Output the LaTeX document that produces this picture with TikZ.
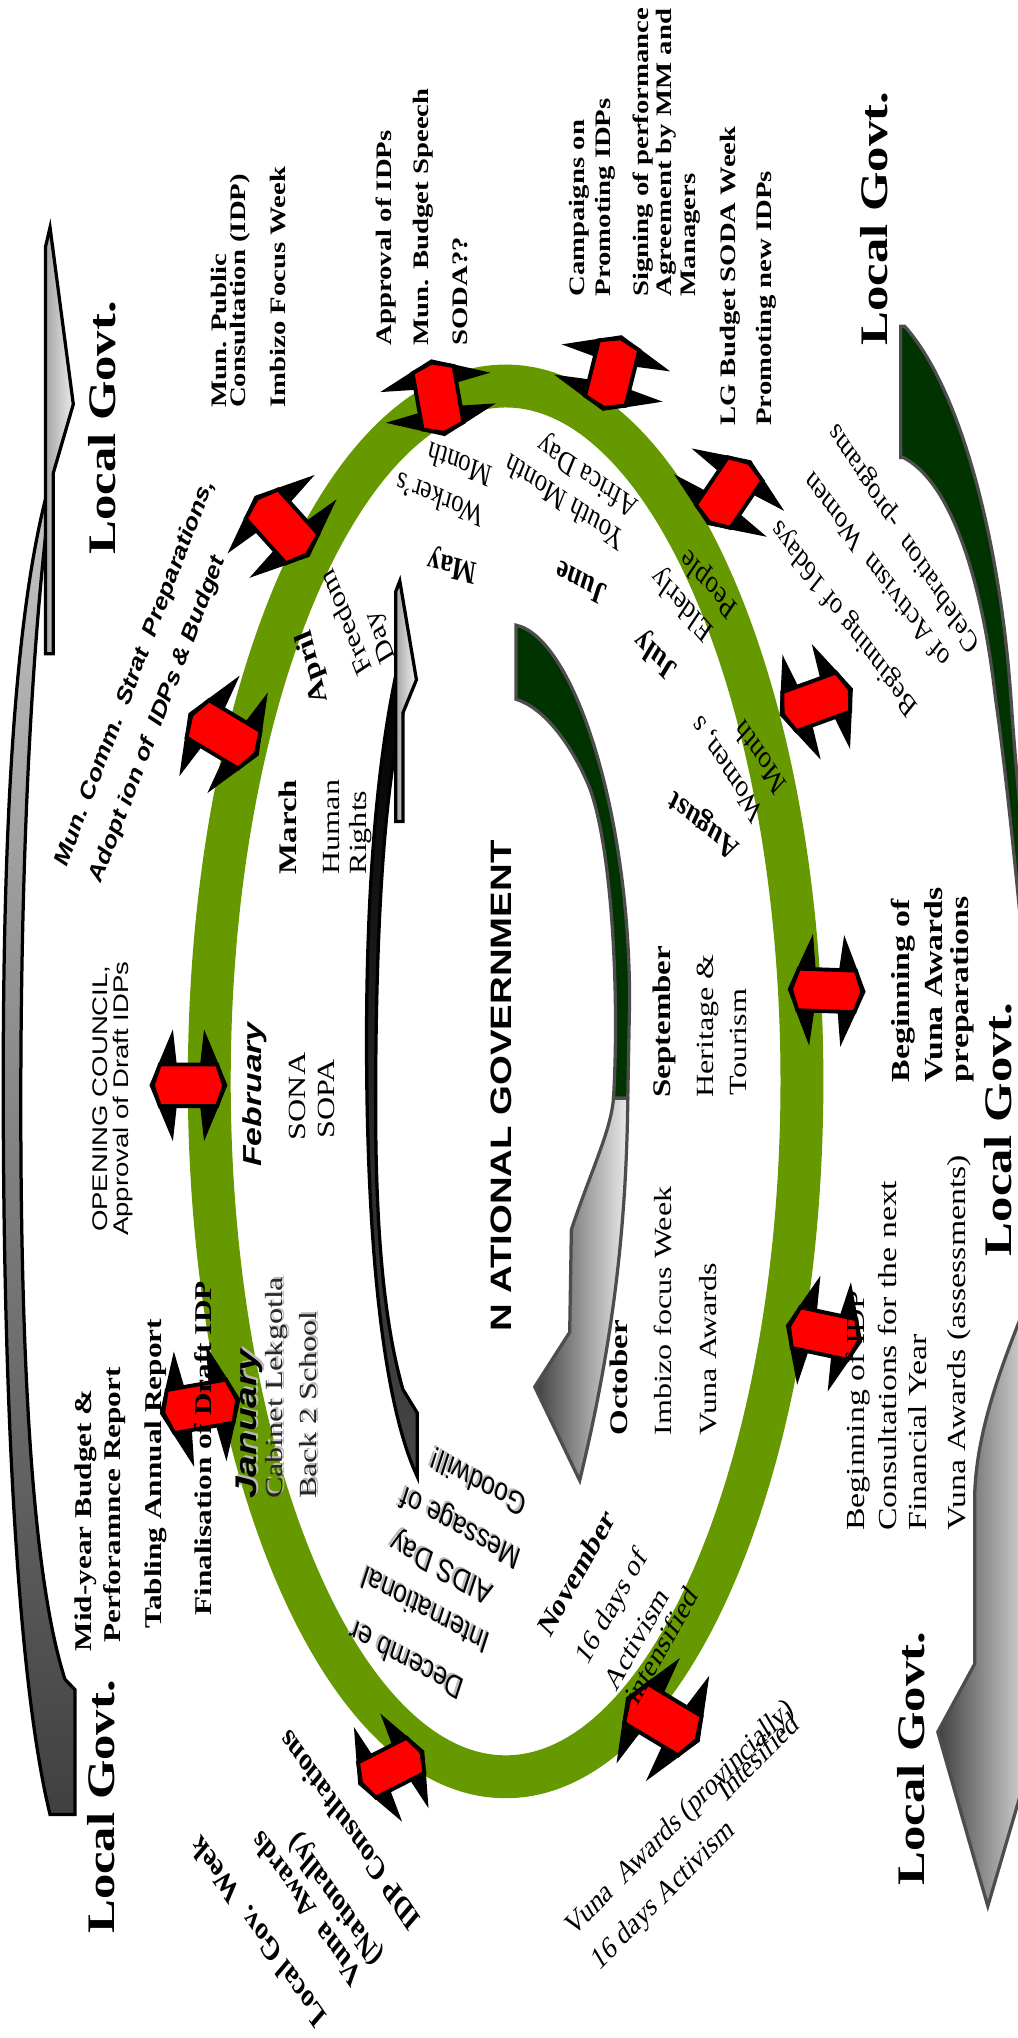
\documentclass[tikz,border=0pt]{standalone}
\usepackage{fontspec}
\setmainfont{Liberation Serif}
\setsansfont{Liberation Sans}
\definecolor{ringg}{HTML}{669900}
\definecolor{dgreen}{HTML}{003300}
\definecolor{ogray}{HTML}{4D4D4D}
\newcommand\fs[1]{\fontsize{#1}{#1}\selectfont}
\tikzset{
 lg/.style={font=\bfseries\fs{30}},
 tb/.style={font=\bfseries\fs{17}},
 lb/.style={font=\bfseries\fs{18.5}},
 mb/.style={font=\bfseries\fs{19.5}},
 mr/.style={font=\fs{19}},
 nat/.style={font=\sffamily\bfseries\fs{22.7}},
 sr/.style={font=\sffamily\fs{16.3}},
 sbb/.style={font=\sffamily\bfseries\fs{16}},
 feb/.style={font=\sffamily\bfseries\itshape\fs{20}},
 jan/.style={font=\sffamily\bfseries\itshape\fs{23}},
 dec/.style={font=\sffamily\fs{19}},
 rb/.style={font=\bfseries\fs{20}},
 rr/.style={font=\fs{20}},
 rs/.style={font=\fs{18.4}},
 idp/.style={font=\bfseries\fs{19.3}},
 shadowtxt/.style={text=gray!55},
 arrowline/.style={line width=2.5pt},
}
% rotated text, anchored at baseline start
\newcommand\TL[5]{\begin{scope}[shift={(#1)},yscale=1.3]\node[inner sep=0pt,anchor=base west,rotate=#2,transform shape,#3] (#4) at (0,0) {#5};\end{scope}}
% rotated text, anchored at centre
\newcommand\TC[5]{\begin{scope}[shift={(#1)},yscale=1.3]\node[inner sep=0pt,anchor=center,rotate=#2,transform shape,#3] (#4) at (0,0) {#5};\end{scope}}
% with grey shadow
\newcommand\TLs[5]{\begin{scope}[shift={(#1)},shift={(1.4,1.4)},yscale=1.3]\node[inner sep=0pt,anchor=base west,rotate=#2,transform shape,#3,shadowtxt] (#4s) at (0,0) {#5};\end{scope}\TL{#1}{#2}{#3}{#4}{#5}}
\newcommand\TCs[5]{\begin{scope}[shift={(#1)},shift={(-1.2,1.4)},yscale=1.3]\node[inner sep=0pt,anchor=center,rotate=#2,transform shape,#3,shadowtxt] (#4s) at (0,0) {#5};\end{scope}\TC{#1}{#2}{#3}{#4}{#5}}
% red double arrow across the ring
\newcommand\RA[4]{\begin{scope}[shift={(#2)},rotate=#3,scale=#4]
\fill[black] (0,30) -- (43,12) -- (16,9) -- (16,-9) -- (43,-12) -- (0,-30) -- (-43,-12) -- (-16,-9) -- (-16,9) -- (-43,12) -- cycle;
\filldraw[fill=red,draw=black,line width=3pt] (0,27.5) -- (16,22) -- (16,-22) -- (0,-27.5) -- (-16,-22) -- (-16,22) -- cycle;
\coordinate (#1) at (0,0);
\end{scope}}

\begin{document}
\begin{tikzpicture}[x=1pt,y=1pt]
\useasboundingbox[fill=white] (0,0) rectangle (782.5,-1568);

% ---------- outer left curved arrow (Local Govt., upward)
\path[draw=black,arrowline,top color=gray!45,middle color=black,bottom color=black!75]
 (36,-380) .. controls (10,-480) and (2,-650) .. (2.5,-850)
 .. controls (3,-1100) and (15,-1300) .. (38.5,-1396) -- (57.7,-1396) -- (57.7,-1300) -- (50,-1292)
 .. controls (30,-1230) and (16,-1100) .. (16,-850)
 .. controls (16,-650) and (25,-480) .. (41,-364) -- cycle;
\path[draw=black,arrowline,left color=gray!70,right color=gray!15]
 (38.5,-175) -- (56.4,-311) -- (41,-364) -- (41,-503) -- (35,-503) -- (35,-190) -- cycle;

% ---------- outer right curved arrow (Local Govt., downward)
\path[draw=ogray,arrowline,fill=dgreen]
 (693,-251) -- (696,-251) .. controls (740,-300) and (770,-420) .. (778,-540)
 .. controls (782,-600) and (790,-680) .. (800,-760) -- (790,-760)
 .. controls (780,-650) and (772,-580) .. (766,-538)
 .. controls (755,-440) and (730,-370) .. (695,-352) -- (693,-352) -- cycle;
\path[draw=ogray,arrowline,left color=black!75,right color=black!8]
 (795,-990) .. controls (770,-1050) and (752,-1100) .. (750,-1147) -- (750,-1280)
 -- (721.5,-1332.5) -- (760,-1466.5) -- (800,-1330) -- cycle;

% ---------- inner left curved arrow (National, upward)
\path[draw=black,arrowline,top color=black,middle color=black,bottom color=black!72]
 (303.8,-523) .. controls (288,-600) and (282,-700) .. (282,-800)
 .. controls (282,-960) and (295,-1080) .. (321,-1136) -- (321,-1087) -- (310,-1069)
 .. controls (296,-1020) and (289,-950) .. (289,-850)
 .. controls (289,-700) and (297,-600) .. (310,-548.5) -- cycle;
\path[draw=black,arrowline,left color=gray!70,right color=gray!10]
 (307.6,-447) -- (320.4,-523) -- (310,-548.5) -- (310,-632) -- (304.5,-632) -- (304.5,-455) -- cycle;

% ---------- inner right curved arrow (National, downward)
\path[draw=ogray,arrowline,fill=dgreen]
 (397,-481) .. controls (440,-490) and (484,-620) .. (484.4,-769) -- (483,-845) -- (472,-845)
 .. controls (477,-760) and (470,-640) .. (451,-600)
 .. controls (440,-575) and (420,-545) .. (397,-538) -- cycle;
\path[draw=ogray,arrowline,left color=black!75,right color=black!8]
 (483,-845) .. controls (482,-950) and (470,-1040) .. (446,-1139) -- (411.4,-1067) -- (438.3,-1025) -- (439.6,-946)
 .. controls (455,-900) and (470,-870) .. (472,-845) -- cycle;

% ---------- the ring
\draw[ringg,line width=33pt] (389,-832) ellipse [x radius=228, y radius=535];

% ---------- red double arrows, one per month
\RA{aMay}{337,-306}{10}{1}
\RA{aJun}{471,-287}{-14}{1}
\RA{aJul}{561,-379}{-34}{1}
\RA{aAug}{628,-540}{-70}{1}
\RA{aSep}{636,-762}{-92}{1}
\RA{aOct}{634,-1026}{-102}{1}
\RA{aNov}{510,-1323}{-121}{1.1}
\RA{aDec}{301,-1360}{117}{0.95}
\RA{aJan}{154,-1082}{100}{1.05}
\RA{aFeb}{145,-835}{90}{1}
\RA{aMar}{172,-565}{59}{1.05}
\RA{aApr}{217,-405}{42}{1.05}

% ---------- Local Govt. labels
\TL{88.5,-427}{90}{lg}{lgA}{Local Govt.}
\TL{683,-266}{90}{lg}{lgB}{Local Govt.}
\TL{777.9,-966.6}{90}{lg}{lgC}{Local Govt.}
\TL{711.3,-1450.9}{90}{lg}{lgD}{Local Govt.}
\TL{88,-1488}{90}{lg}{lgE}{Local Govt.}

% ---------- top outer texts
\TL{174,-314}{90}{tb}{t1}{Mun. Public}
\TL{189,-314}{90}{tb}{t2}{Consultation (IDP)}
\TL{220,-314}{90}{tb}{t3}{Imbizo Focus Week}
\TL{301,-266}{90}{tb}{t4}{Approval of IDPs}
\TL{329.5,-266}{90}{tb}{t5}{Mun. Budget Speech}
\TL{360,-266}{90}{tb}{t6}{SODA??}
\TL{450,-228.3}{90}{tb}{t7}{Campaigns on}
\TL{469.5,-228.3}{90}{tb}{t8}{Promoting IDPs}
\TL{499,-228.3}{90}{tb}{t9}{Signing of performance}
\TL{517,-228.3}{90}{tb}{t10}{Agreement by MM and}
\TL{535,-228.3}{90}{tb}{t11}{Managers}
\TL{565.5,-327.8}{90}{tb}{t12}{LG Budget SODA Week}
\TL{593.7,-327.8}{90}{tb}{t13}{Promoting new IDPs}

% ---------- left outer texts
\TC{104,-518}{63.5}{sbb}{t14}{Mun. Comm.\ \ Strat\ \ Preparations,}
\TC{121.7,-553.6}{63.5}{sbb}{t15}{Adopt ion of\ \ IDPs \& Budget}
\TL{82.5,-948}{90}{sr}{t16}{OPENING COUNCIL,}
\TL{99.2,-951}{90}{sr}{t17}{Approval of Draft IDPs}
\TL{70.3,-1270.7}{90}{lb}{t18}{Mid-year Budget \&}
\TL{92.5,-1263.8}{90}{lb}{t19}{Perforamnce Report}
\TL{124.5,-1253.4}{90}{lb}{t20}{Tabling Annual Report}
\TL{162.8,-1243.2}{90}{lb}{t21}{Finalisation of Draft IDP}

% ---------- bottom outer texts
\TC{269,-1408.5}{132}{idp}{t22}{IDP Consultations}
\TC{258.9,-1461}{132}{idp}{t23}{(Nationally)}
\TC{235.8,-1468.7}{132}{idp}{t24}{Vuna\ \ Awards}
\TC{198.6,-1486.6}{132}{idp}{t25}{Local Gov.\ \ Week}
\TC{523.5,-1399.4}{38}{mr}{t26}{Vuna\ \ Awards (provincially)}
\TC{583,-1351}{38}{mr}{t27}{Intesified}
\TC{510.7,-1458.6}{38}{mr}{t28}{16 days Activism}

% ---------- right outer texts
\TC{649.8,-474.8}{134}{rs}{t29}{Beginning of 16days}
\TC{674.1,-439.4}{134}{rs}{t30}{of Activism\ \ Women}
\TC{695.9,-413.6}{130}{rs}{t31}{Celebration\ \ -programs}
\TL{700,-832.8}{90}{rb}{t32}{Beginning of}
\TL{725.4,-832.8}{90}{rb}{t33}{Vuna Awards}
\TL{745,-832.8}{90}{rb}{t34}{preparations}
\TL{665.5,-1178}{90}{rr}{t35}{Beginning of IDP}
\TL{689.5,-1178}{90}{rr}{t36}{Consultations for the next}
\TL{712.6,-1178}{90}{rr}{t37}{Financial Year}
\TL{742.5,-1178}{90}{rr}{t38}{Vuna Awards (assessments)}

% ---------- months inside the ring
\TL{228,-673}{90}{mb}{m1}{March}
\TL{261.4,-673}{90}{mr}{m2}{Human}
\TL{282,-673}{90}{mr}{m3}{Rights}
\TC{241,-513}{108}{mb}{m4}{April}
\TC{265.8,-479.3}{117}{mr}{m5}{Freedom}
\TC{293.5,-489.5}{115}{mr}{m6}{Day}
\TC{348,-434.5}{169}{mb}{m7}{May}
\TC{338.3,-384.5}{162}{mr}{m8}{Worker’s}
\TC{353.7,-357.6}{162}{mr}{m9}{Month}
\TC{447.3,-448.5}{157.5}{mb}{m10}{June}
\TC{434.5,-387}{152}{mr}{m11}{Youth Month}
\TC{452.4,-365.2}{152}{mr}{m12}{Africa Day}
\TC{505,-503.6}{142}{mb}{m13}{July}
\TC{525.4,-464}{139}{mr}{m14}{Elderly}
\TC{546,-448.5}{139}{mr}{m15}{People}
\TC{542,-633.6}{148}{mb}{m16}{August}
\TC{560,-590.8}{130}{mr}{m17}{Women, s}
\TC{584.4,-583}{130}{mr}{m18}{Month}
\TL{515.5,-844.8}{90}{mb}{m19}{September}
\TL{548.8,-844.8}{90}{mr}{m20}{Heritage \&}
\TL{574.1,-843.1}{90}{mr}{m21}{Tourism}
\TL{483.1,-1104.7}{90}{mb}{m22}{October}
\TL{516.5,-1104.7}{90}{mr}{m23}{Imbizo focus Week}
\TL{551,-1104.7}{90}{mr}{m24}{Vuna Awards}
\TC{443.4,-1209.8}{54}{mb}{m25}{November}
\TC{471.6,-1236.7}{54}{mr}{m26}{16 days of}
\TC{490,-1260.5}{54}{mr}{m27}{Activism}
\TC{508.8,-1265.7}{54}{mr}{m28}{intensified}
\TCs{312.7,-1277.7}{157}{dec}{m29}{Decemb er}
\TCs{327.6,-1239.3}{157}{dec}{m30}{International}
\TCs{340.4,-1204.7}{157}{dec}{m31}{AIDS Day}
\TCs{355,-1174}{157}{dec}{m32}{Message of}
\TCs{367.8,-1140.6}{157}{dec}{m33}{Goodwill!}
\TLs{197.7,-1153.4}{90}{jan}{m34}{January}
\TLs{217.5,-1153.4}{90}{mr,text=black!85}{m35}{Cabinet Lekgotla}
\TLs{243.5,-1153.4}{90}{mr,text=black!85}{m36}{Back 2 School}
\TL{201,-898}{90}{feb}{m37}{February}
\TL{235,-877.5}{90}{mr}{m38}{SONA}
\TL{257.6,-876}{90}{mr}{m39}{SOPA}
\TL{393.4,-1025}{90}{nat}{nat}{N ATIONAL GOVERNMENT}
\end{tikzpicture}
\end{document}
